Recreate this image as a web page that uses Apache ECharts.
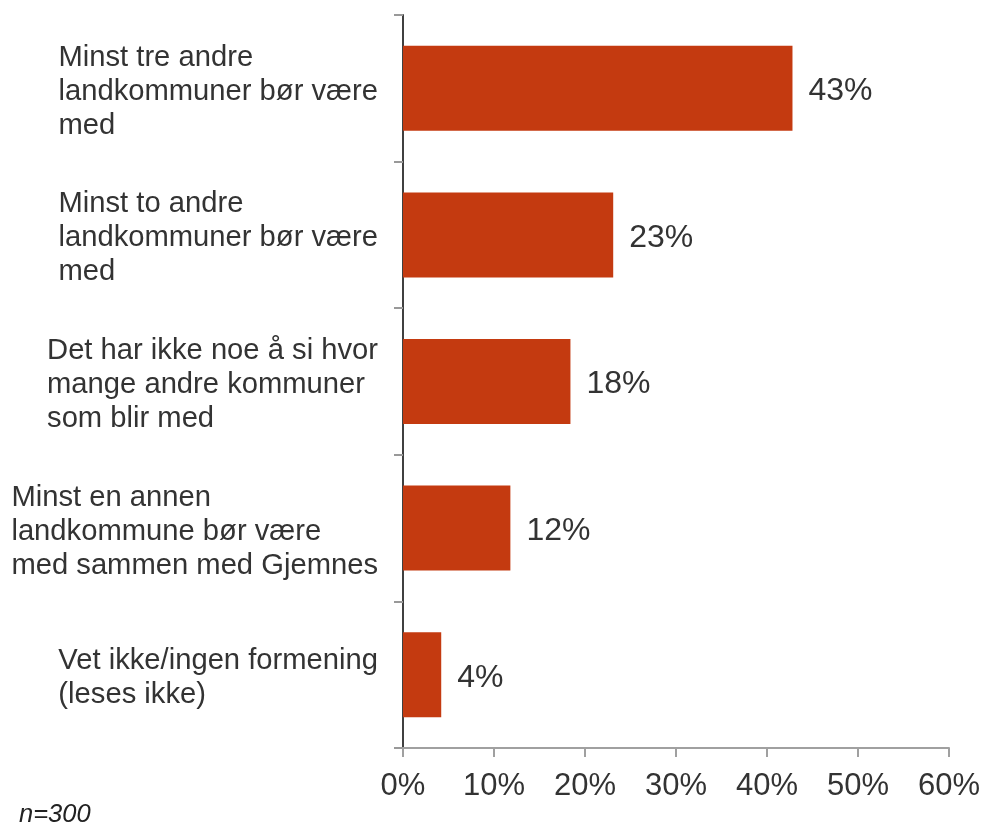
<!DOCTYPE html>
<html>
<head>
<meta charset="utf-8">
<script src="https://cdn.jsdelivr.net/npm/echarts@6/dist/echarts.min.js"></script>
<style>html,body{margin:0;padding:0;background:#fff}#c{width:985px;height:828px}</style>
</head>
<body>
<div id="c"></div>
<script>
const categories = [
  "Minst tre andre\nlandkommuner bør være\nmed",
  "Minst to andre\nlandkommuner bør være\nmed",
  "Det har ikke noe å si hvor\nmange andre kommuner\nsom blir med",
  "Minst en annen\nlandkommune bør være\nmed sammen med Gjemnes",
  "Vet ikke/ingen formening\n(leses ikke)"
];
const values = [42.8, 23.1, 18.4, 11.8, 4.2];
const xTicks = { min: 0, max: 60, interval: 10 };
const note = "n=300";

const FONT = "'Liberation Sans', Arial, sans-serif";
const chart = echarts.init(document.getElementById('c'));
chart.setOption({
  animation: false,
  backgroundColor: '#fff',
  grid: { left: 403, right: 36, top: 15, bottom: 80, containLabel: false },
  xAxis: {
    type: 'value', min: xTicks.min, max: xTicks.max, interval: xTicks.interval,
    axisLine: { show: true, lineStyle: { color: '#a0a0a0', width: 2 } },
    axisTick: { show: true, length: 9, lineStyle: { color: '#a0a0a0', width: 2 } },
    splitLine: { show: false },
    axisLabel: { formatter: '{value}%', fontFamily: FONT, fontSize: 31, color: '#333', margin: 23 }
  },
  yAxis: {
    type: 'category', data: categories, inverse: true,
    axisLine: { show: true, lineStyle: { color: '#404040', width: 2 } },
    axisTick: { show: true, length: 9, lineStyle: { color: '#999', width: 2 } },
    axisLabel: {
      margin: 25, align: 'right', padding: [7, 0, 0, 0],
      formatter: v => '{a|' + v.split('\n').join('}\n{a|') + '}',
      rich: { a: { align: 'left', fontFamily: FONT, fontSize: 29.2, lineHeight: 34, color: '#333' } }
    }
  },
  series: [{
    type: 'bar', data: values, barWidth: 85,
    itemStyle: { color: '#C43A10' },
    label: {
      show: true, position: 'right', distance: 16, offset: [0, 3],
      formatter: p => Math.round(p.value) + '%',
      fontFamily: FONT, fontSize: 32, color: '#333'
    }
  }],
  graphic: [{
    type: 'text', left: 19, top: 802,
    style: { text: note, fontFamily: FONT, fontSize: 25.5, fontStyle: 'italic', fill: '#222' }
  }]
});
</script>
</body>
</html>
